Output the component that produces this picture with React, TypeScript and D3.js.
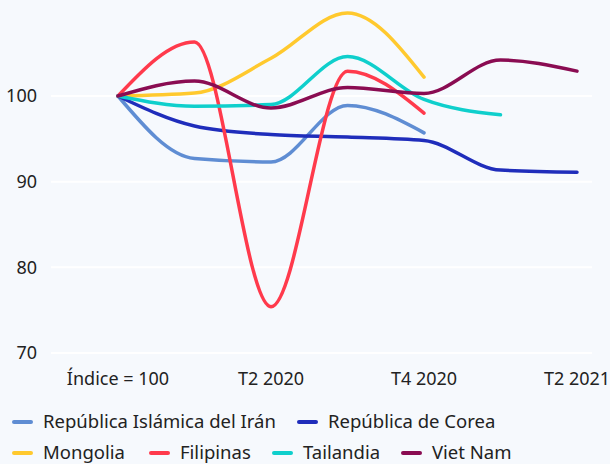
import React from "react";
import * as d3 from "d3";

const categories = ["Índice = 100", "T1 2020", "T2 2020", "T3 2020", "T4 2020", "T1 2021", "T2 2021"];
const tickLabels = ["Índice = 100", "T2 2020", "T4 2020", "T2 2021"];
const yTicks = [70, 80, 90, 100];

const iran = [100, 92.7, 92.3, 98.9, 95.7, null, null];
const corea = [100, 96.5, 95.5, 95.2, 94.8, 91.35, 91.1];
const mongolia = [100, 100.35, 104.4, 109.7, 102.2, null, null];
const filipinas = [100, 106.3, 75.4, 102.9, 98.0, null, null];
const tailandia = [100, 98.8, 99.0, 104.6, 99.6, 97.8, null];
const vietnam = [100, 101.75, 98.6, 101.0, 100.3, 104.2, 102.9];

const seriesNames = ["República Islámica del Irán", "República de Corea", "Mongolia", "Filipinas", "Tailandia", "Viet Nam"];
const seriesColors = ["#5f8dd3", "#1f2dbb", "#ffc92e", "#ff3a4c", "#0fcfcc", "#8a0c52"];
const seriesValues = [iran, corea, mongolia, filipinas, tailandia, vietnam];

const W = 610, H = 464;

export default function App() {
  const x = d3.scalePoint<string>().domain(categories).range([118, 577]);
  const y = d3.scaleLinear().domain([70, 100]).range([353, 96]);
  const line = d3
    .line<number | null>()
    .defined((d) => d != null)
    .x((_, i) => x(categories[i]) as number)
    .y((d) => y(d as number))
    .curve(d3.curveMonotoneX);

  const font = "'Noto Sans', sans-serif";
  const legendRows = [
    [
      { i: 0, x: 12 },
      { i: 1, x: 297 },
    ],
    [
      { i: 2, x: 12 },
      { i: 3, x: 149 },
      { i: 4, x: 272 },
      { i: 5, x: 401 },
    ],
  ];
  const legendY = [422, 453];

  return (
    <div style={{ position: "fixed", left: 0, top: 0 }}>
      <svg width={W} height={H} style={{ display: "block" }}>
        <rect x={0} y={0} width={W} height={H} fill="#f6f9fd" />
        {yTicks.map((t) => (
          <g key={t}>
            <line x1={51} x2={592} y1={y(t)} y2={y(t)} stroke="#ffffff" strokeWidth={2} />
            <text x={37} y={y(t)} dy="0.35em" textAnchor="end" fontFamily={font} fontSize={18} fill="#222">
              {t}
            </text>
          </g>
        ))}
        {tickLabels.map((c) => (
          <text key={c} x={x(c)} y={385} textAnchor="middle" fontFamily={font} fontSize={18} fill="#222">
            {c}
          </text>
        ))}
        {seriesValues.map((vals, i) => (
          <path
            key={i}
            d={line(vals) || ""}
            fill="none"
            stroke={seriesColors[i]}
            strokeWidth={3.5}
            strokeLinecap="round"
            strokeLinejoin="round"
          />
        ))}
        {legendRows.map((row, r) =>
          row.map((it) => (
            <g key={it.i}>
              <line
                x1={it.x + 2}
                x2={it.x + 19}
                y1={legendY[r]}
                y2={legendY[r]}
                stroke={seriesColors[it.i]}
                strokeWidth={4}
                strokeLinecap="round"
              />
              <text x={it.x + 31} y={legendY[r]} dy="0.35em" fontFamily={font} fontSize={18.5} fill="#222">
                {seriesNames[it.i]}
              </text>
            </g>
          ))
        )}
      </svg>
    </div>
  );
}
